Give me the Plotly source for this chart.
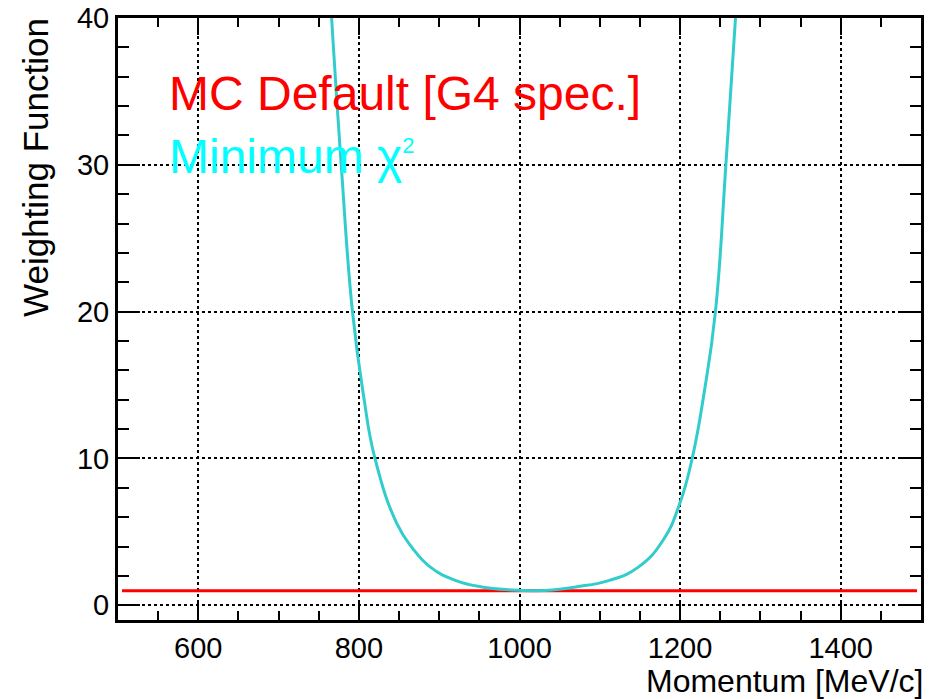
import plotly.graph_objects as go

# Weighting functions versus momentum
chi2_momentum = [766, 778, 792, 806, 820, 847, 866, 889, 920, 953, 990,
                 1020, 1041, 1070, 1112, 1148, 1179, 1200, 1215, 1230, 1244, 1257, 1269]
chi2_weight = [40, 30, 20, 14.2, 10, 5.6, 3.95, 2.6, 1.7, 1.25, 1.05,
               1.0, 1.05, 1.25, 1.7, 2.6, 4.45, 7.0, 10, 14.5, 20, 30, 40]

mc_momentum = [505, 1495]
mc_weight = [1, 1]

x_ticks = [600, 800, 1000, 1200, 1400]
y_ticks = [0, 10, 20, 30, 40]

FONT = "Liberation Sans, Arial, Helvetica, sans-serif"

fig = go.Figure()
fig.add_trace(go.Scatter(x=mc_momentum, y=mc_weight, mode="lines",
                         line=dict(color="#ff0000", width=3), showlegend=False))
fig.add_trace(go.Scatter(x=chi2_momentum, y=chi2_weight, mode="lines",
                         line=dict(color="#33cccc", width=3, shape="spline", smoothing=1.3),
                         showlegend=False))

axis_common = dict(
    showline=True, linecolor="black", linewidth=3, mirror="allticks",
    ticks="inside", tickcolor="black", tickwidth=2,
    showgrid=True, gridcolor="black", gridwidth=1.5, griddash="dot",
    zeroline=False, automargin=False,
    tickfont=dict(family=FONT, size=29, color="black"),
)

fig.update_xaxes(range=[500, 1500], tickvals=x_ticks, ticklen=17,
                 minor=dict(ticks="inside", dtick=50, ticklen=9, tickwidth=2,
                            tickcolor="black", showgrid=False),
                 **axis_common)
fig.update_yaxes(range=[-1, 40], tickvals=y_ticks, ticklen=22,
                 minor=dict(ticks="inside", dtick=2, ticklen=11, tickwidth=2,
                            tickcolor="black", showgrid=False),
                 **axis_common)

fig.update_layout(
    width=932, height=699,
    margin=dict(l=118, r=11, t=18, b=79, autoexpand=False),
    paper_bgcolor="white", plot_bgcolor="white",
    font=dict(family=FONT, color="black"),
    annotations=[
        dict(text="MC Default [G4 spec.]", xref="paper", yref="paper",
             x=0.061, y=0.874, xanchor="left", yanchor="middle", showarrow=False,
             font=dict(family=FONT, size=48, color="#ff0000")),
        dict(text="Minimum \u03c7<sup><span style='font-size:22px'>2</span></sup>",
             xref="paper", yref="paper",
             x=0.061, y=0.770, xanchor="left", yanchor="middle", showarrow=False,
             font=dict(family=FONT, size=48, color="#00ffff")),
        dict(text="Momentum [MeV/c]", xref="paper", yref="paper",
             x=1.005, y=-0.101, xanchor="right", yanchor="middle", showarrow=False,
             font=dict(family=FONT, size=32, color="black")),
        dict(text="Weighting Function", xref="paper", yref="paper",
             x=-0.103, y=1.003, xanchor="center", yanchor="top", textangle=-90,
             showarrow=False, font=dict(family=FONT, size=35, color="black")),
    ],
)

fig.write_html("out.html")
